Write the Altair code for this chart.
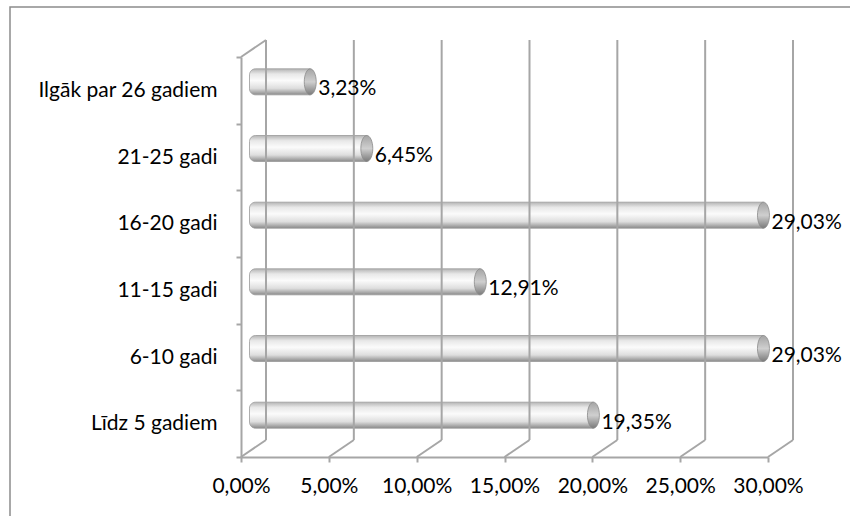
import altair as alt
import pandas as pd

# Share of respondents by length of service
categories = ["Ilgāk par 26 gadiem", "21-25 gadi", "16-20 gadi", "11-15 gadi", "6-10 gadi", "Līdz 5 gadiem"]
values = [0.0323, 0.0645, 0.2903, 0.1291, 0.2903, 0.1935]
value_labels = ["3,23%", "6,45%", "29,03%", "12,91%", "29,03%", "19,35%"]
x_ticks = [0.0, 0.05, 0.10, 0.15, 0.20, 0.25, 0.30]

FONT = "Lato"
FS = 21
GRID = "#a6a6a6"
W, H = 527, 400          # front plane of the plot
DX, DY = 25, -17         # depth of the 3-D box (back wall offset)

bars = pd.DataFrame({"cat": categories, "val": values, "label": value_labels})
ticks = pd.DataFrame({"t": x_ticks})

x_scale = alt.Scale(domain=[0, 0.30], nice=False, zero=True)
y_scale = alt.Scale(domain=categories, paddingInner=0, paddingOuter=0)

fmt = "replace(format(datum.value * 100, '.2f'), '.', ',') + '%'"

# outer chart frame
frame = alt.Chart(pd.DataFrame({"a": [0]})).mark_rect(
    fillOpacity=0, stroke="#8c8c8c", strokeWidth=1.5
).encode(x=alt.value(-231), x2=alt.value(W + 100), y=alt.value(-50), y2=alt.value(H + 100))

# back wall gridlines
back_grid = alt.Chart(ticks).mark_rule(color=GRID, strokeWidth=2, xOffset=DX).encode(
    x=alt.X("t:Q", scale=x_scale),
    y=alt.value(DY), y2=alt.value(H + DY),
)

# floor diagonals joining front axis to back wall
floor = alt.Chart(ticks).mark_rule(color=GRID, strokeWidth=2, x2Offset=DX).encode(
    x=alt.X("t:Q", scale=x_scale),
    x2="t:Q",
    y=alt.value(H), y2=alt.value(H + DY),
)

# top-left edge of the box
corner = alt.Chart(pd.DataFrame({"a": [0]})).mark_rule(color=GRID, strokeWidth=2).encode(
    x=alt.value(0), x2=alt.value(DX), y=alt.value(0), y2=alt.value(DY)
)

bar_fill = alt.Gradient(
    gradient="linear", x1=0, y1=0, x2=0, y2=1,
    stops=[
        alt.GradientStop(offset=0, color="#b4b4b4"),
        alt.GradientStop(offset=0.2, color="#e8e8e8"),
        alt.GradientStop(offset=0.45, color="#fbfbfb"),
        alt.GradientStop(offset=0.75, color="#dedede"),
        alt.GradientStop(offset=1, color="#8a8a8a"),
    ],
)
cap_fill = alt.Gradient(
    gradient="linear", x1=0, y1=0, x2=0, y2=1,
    stops=[
        alt.GradientStop(offset=0, color="#a4a4a4"),
        alt.GradientStop(offset=0.5, color="#cfcfcf"),
        alt.GradientStop(offset=1, color="#7a7a7a"),
    ],
)

base = alt.Chart(bars)

x_axis = alt.Axis(values=x_ticks, labelExpr=fmt, labelFont=FONT, labelFontSize=FS,
                  labelColor="#000", labelPadding=13, tickSize=5, tickColor=GRID,
                  tickWidth=2, domainColor=GRID, domainWidth=2, grid=False, title=None,
                  labelOverlap=False, labelBound=False, labelFlush=False, zindex=1)
y_axis = alt.Axis(labelFont=FONT, labelFontSize=FS, labelColor="#000", labelPadding=19,
                  tickBand="extent", tickSize=5, tickColor=GRID, tickWidth=2,
                  domainColor=GRID, domainWidth=2, grid=False, title=None,
                  labelOverlap=False, zindex=1)

# cylinder bodies, sitting halfway into the box (x = value end, x2 = zero end)
body = base.mark_bar(
    color=bar_fill, size=26, xOffset=DX / 2, x2Offset=DX / 2 - 4, yOffset=DY / 2,
    cornerRadiusTopLeft=6, cornerRadiusBottomLeft=6,
    stroke="#9a9a9a", strokeWidth=0.8,
).encode(
    x=alt.X("val:Q", scale=x_scale, axis=x_axis),
    x2=alt.datum(0),
    y=alt.Y("cat:N", scale=y_scale, sort=categories, axis=y_axis),
)

# elliptical end caps
ellipse = "M0,-1 A0.46,1 0 1,1 0,1 A0.46,1 0 1,1 0,-1 Z"
caps = base.mark_point(
    shape=ellipse, size=676, filled=True, color=cap_fill, opacity=1,
    stroke="#8a8a8a", strokeWidth=0.8, xOffset=DX / 2, yOffset=DY / 2,
).encode(
    x=alt.X("val:Q", scale=x_scale),
    y=alt.Y("cat:N", scale=y_scale, sort=categories),
)

labels = base.mark_text(
    align="left", baseline="middle", font=FONT, fontSize=FS, color="#000",
    xOffset=DX / 2 + 8, yOffset=-1,
).encode(
    x=alt.X("val:Q", scale=x_scale),
    y=alt.Y("cat:N", scale=y_scale, sort=categories),
    text="label:N",
)

chart = alt.layer(body, frame, back_grid, floor, corner, caps, labels).properties(
    width=W, height=H,
    autosize=alt.AutoSizeParams(type="none"),
    padding={"left": 241, "top": 57, "right": 82, "bottom": 59},
    background="white",
).configure_view(stroke=None)

chart.save("out.html", embed_options={"renderer": "svg", "actions": False})
